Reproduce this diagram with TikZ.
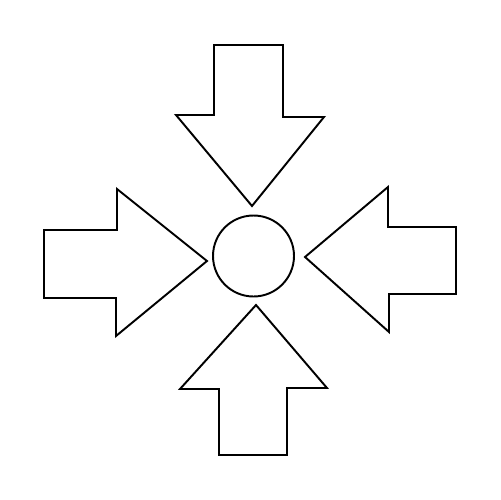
\documentclass[tikz,border=0pt]{standalone}
\usetikzlibrary{calc}

\begin{document}
\begin{tikzpicture}[x=0.02cm, y=-0.02cm, line width=1.1pt, line join=miter,
   blockarrow/.style={draw, fill=white},
   hub/.style={draw, circle, inner sep=0pt, minimum size=1.62cm}]
   \useasboundingbox (0,0) rectangle (500,500);
   \node[hub] (hub) at (253.5, 256) {};
   % arrow from above
   \draw[blockarrow] (214,45) -- (283,45) -- (283,117) -- (324,117) -- (252,206) -- (176,115) -- (214,115) -- cycle;
   % arrow from the left
   \draw[blockarrow] (44,230) -- (117,230) -- (117,189) -- (207,261) -- (116,336) -- (116,298) -- (44,298) -- cycle;
   % arrow from the right
   \draw[blockarrow] (456,227) -- (456,294) -- (389,294) -- (389,332) -- (305,257) -- (388,187) -- (388,227) -- cycle;
   % arrow from below
   \draw[blockarrow] (256,305) -- (327,388) -- (287,388) -- (287,455) -- (219,455) -- (219,389) -- (180,389) -- cycle;
\end{tikzpicture}
\end{document}
